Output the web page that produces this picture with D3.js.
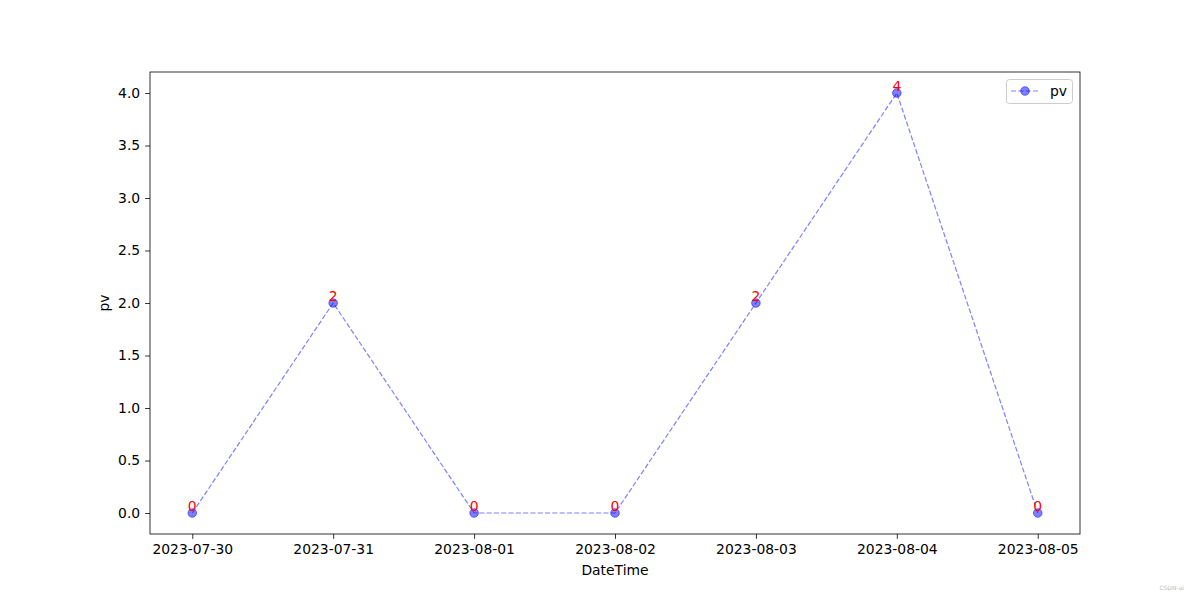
<!DOCTYPE html>
<html><head><meta charset="utf-8">
<script src="https://cdn.jsdelivr.net/npm/d3@7"></script>
<style>body{margin:0;background:#fff}svg{display:block;font-family:"DejaVu Sans",sans-serif}</style>
</head><body>
<svg id="c" width="1200" height="600"></svg>
<script>
const dates = ["2023-07-30","2023-07-31","2023-08-01","2023-08-02","2023-08-03","2023-08-04","2023-08-05"];
const pv = [0,2,0,0,2,4,0];
const yTicks = [0.0,0.5,1.0,1.5,2.0,2.5,3.0,3.5,4.0];

const svg = d3.select("#c");
const L=150,R=1080,T=72,B=534;
const FS=13.9;
const parse = d3.utcParse("%Y-%m-%d");
const xd = dates.map(parse);
const span = xd[xd.length-1]-xd[0];
const x = d3.scaleUtc().domain([+xd[0]-span*0.05, +xd[xd.length-1]+span*0.05]).range([L,R]);
const ymax = d3.max(pv), ymin = d3.min(pv), yr = ymax-ymin;
const y = d3.scaleLinear().domain([ymin-yr*0.05, ymax+yr*0.05]).range([B,T]);

const xa = svg.append("g").attr("transform",`translate(0,${B})`)
  .call(d3.axisBottom(x).tickValues(xd).tickFormat(d3.utcFormat("%Y-%m-%d")).tickSize(4.9).tickPadding(4.9).tickSizeOuter(0));
const ya = svg.append("g").attr("transform",`translate(${L},0)`)
  .call(d3.axisLeft(y).tickValues(yTicks).tickFormat(d3.format(".1f")).tickSize(4.9).tickPadding(4.9).tickSizeOuter(0));
[xa,ya].forEach(a=>{a.selectAll("text").attr("font-size",FS).attr("fill","#000").attr("font-family","DejaVu Sans");a.select(".domain").remove();a.selectAll("line").attr("stroke","#000").attr("stroke-width",0.8);});

svg.append("rect").attr("x",L).attr("y",T).attr("width",R-L).attr("height",B-T).attr("fill","none").attr("stroke","#000").attr("stroke-width",0.8);

const pts = xd.map((d,i)=>[x(d),y(pv[i])]);
svg.append("path").attr("d",d3.line()(pts)).attr("fill","none").attr("stroke","blue").attr("stroke-opacity",0.5).attr("stroke-width",1.2).attr("stroke-dasharray","5.1,2.2");
svg.selectAll("circle.m").data(pts).join("circle").attr("cx",d=>d[0]).attr("cy",d=>d[1]).attr("r",4.3).attr("fill","blue").attr("fill-opacity",0.5).attr("stroke","blue").attr("stroke-opacity",0.5).attr("stroke-width",1);
svg.selectAll("text.lab").data(pts).join("text").attr("x",d=>d[0]).attr("y",d=>d[1]-2).attr("text-anchor","middle").attr("font-size",FS).attr("fill","red").text((d,i)=>pv[i]);

svg.append("text").attr("x",(L+R)/2).attr("y",575).attr("text-anchor","middle").attr("font-size",FS).text("DateTime");
svg.append("text").attr("transform",`translate(109,${(T+B)/2}) rotate(-90)`).attr("text-anchor","middle").attr("font-size",FS).text("pv");

const lg = svg.append("g");
lg.append("rect").attr("x",1006.5).attr("y",79.5).attr("width",66).attr("height",24).attr("rx",3).attr("fill","#fff").attr("fill-opacity",0.8).attr("stroke","#ccc").attr("stroke-width",1);
lg.append("line").attr("x1",1011).attr("x2",1039).attr("y1",91).attr("y2",91).attr("stroke","blue").attr("stroke-opacity",0.5).attr("stroke-width",1.2).attr("stroke-dasharray","5.1,2.2");
lg.append("circle").attr("cx",1025).attr("cy",91).attr("r",4.3).attr("fill","blue").attr("fill-opacity",0.5).attr("stroke","blue").attr("stroke-opacity",0.5);
lg.append("text").attr("x",1050).attr("y",96).attr("font-size",FS).text("pv");

svg.append("text").attr("x",1184).attr("y",590).attr("text-anchor","end").attr("font-size",6).attr("fill","#bbb").text("CSDN-ai");
</script>
</body></html>
